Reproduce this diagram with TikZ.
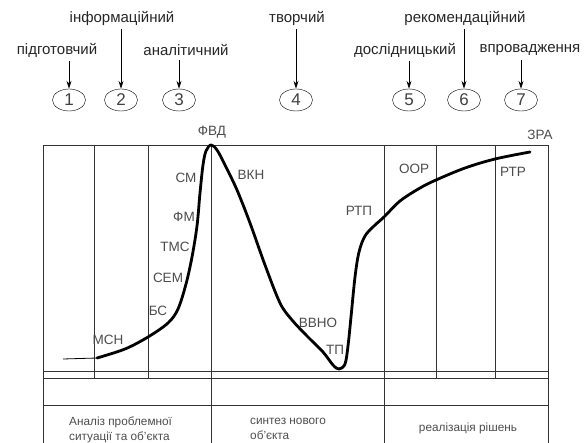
\documentclass[tikz,border=0pt]{standalone}
\usepackage{fontspec}
\setmainfont{Liberation Sans}
\usetikzlibrary{shapes.geometric,arrows.meta}
\begin{document}
\begin{tikzpicture}[x=1pt,y=-1pt,
  frame/.style={draw=black!80,line width=0.8pt},
  curve/.style={line width=2.8pt,line cap=round,line join=round},
  num/.style={draw,ellipse,minimum width=33pt,minimum height=22pt,inner sep=0pt,font=\fontsize{17}{17}\selectfont,text=black!75},
  toplab/.style={font=\fontsize{15}{15}\selectfont,text=black!85,inner sep=1pt},
  pt/.style={font=\fontsize{13.5}{13.5}\selectfont,text=black!70,inner sep=0pt},
  bot/.style={font=\fontsize{11.8}{12}\selectfont,text=black!70,inner sep=0pt,align=left},
  arr/.style={-{Stealth[length=8pt,width=5pt]},line width=0.8pt}]
\useasboundingbox (0,0) rectangle (584,443);
% frame
\draw[frame] (43,145) -- (548,145);
\draw[frame] (43,371) -- (548,371);
\draw[frame] (43,378) -- (548,378);
\draw[frame] (43,405) -- (548,405);
\foreach \x in {43,211,384,548} \draw[frame] (\x,145) -- (\x,443);
\foreach \x in {94,148,436,495} \draw[frame] (\x,145) -- (\x,378);
% circles
\node[num] (c1) at (69,100) {1};
\node[num] (c2) at (121,100) {2};
\node[num] (c3) at (179,100) {3};
\node[num] (c4) at (296,100) {4};
\node[num] (c5) at (409,100) {5};
\node[num] (c6) at (464,100) {6};
\node[num] (c7) at (521,100) {7};
% top labels
\node[toplab] (l1) at (57,50) {підготовчий};
\node[toplab] (l2) at (122,18) {інформаційний};
\node[toplab] (l3) at (186,50) {аналітичний};
\node[toplab] (l4) at (297,18) {творчий};
\node[toplab] (l5) at (405,50) {дослідницький};
\node[toplab] (l6) at (465,18) {рекомендаційний};
\node[toplab] (l7) at (530,50) {впровадження};
\foreach \i in {1,...,7} \draw[arr] ([yshift=-3pt]l\i.south -| c\i.north) -- (c\i.north);
% curve
\coordinate (s0) at (63,359);
\coordinate (s1) at (97,358);
\draw[line width=0.8pt] (s0) -- (s1);
\draw[curve] plot[smooth,tension=0.55] coordinates {
 (97,358) (125,349) (148,337) (168,323) (178,309) (186,284) (192,257) (197,226) (200,193) (203,165) (206,151) (211,145)
 (217,150) (225,165) (237,190) (250,223) (265,265) (280,303) (292,320) (307,336) (323,352) (333,365) (339,369)
 (345,364) (348,346) (351,317) (355,277) (359,252) (365,236) (374,226) (384,217) (400,201) (420,188) (436,180)
 (465,168) (495,159) (530,152)};
% point labels
\node[pt] (ФВД) at (212,132) {ФВД};
\node[pt] (ЗРА) at (540,135) {ЗРА};
\node[pt] (мсн) at (108,340) {МСН};
\node[pt] (бс) at (158,311) {БС};
\node[pt] (сем) at (168,278) {СЕМ};
\node[pt] (тмс) at (175,247) {ТМС};
\node[pt] (фм) at (184,217) {ФМ};
\node[pt] (см) at (186,178) {СМ};
\node[pt] (вкн) at (251,175) {ВКН};
\node[pt] (ввно) at (318,323) {ВВНО};
\node[pt] (тп) at (335,350) {ТП};
\node[pt] (ртп) at (359,211) {РТП};
\node[pt] (оор) at (414,169) {ООР};
\node[pt] (ртр) at (513,172) {РТР};
% bottom texts
\node[bot,anchor=west] (b1) at (69,430) {Аналіз проблемної\\[3pt]ситуації та об’єкта};
\node[bot,anchor=west] (b2) at (250,429) {синтез нового\\[3pt]об’єкта};
\node[bot] (b3) at (468,428) {реалізація рішень};
\end{tikzpicture}
\end{document}
